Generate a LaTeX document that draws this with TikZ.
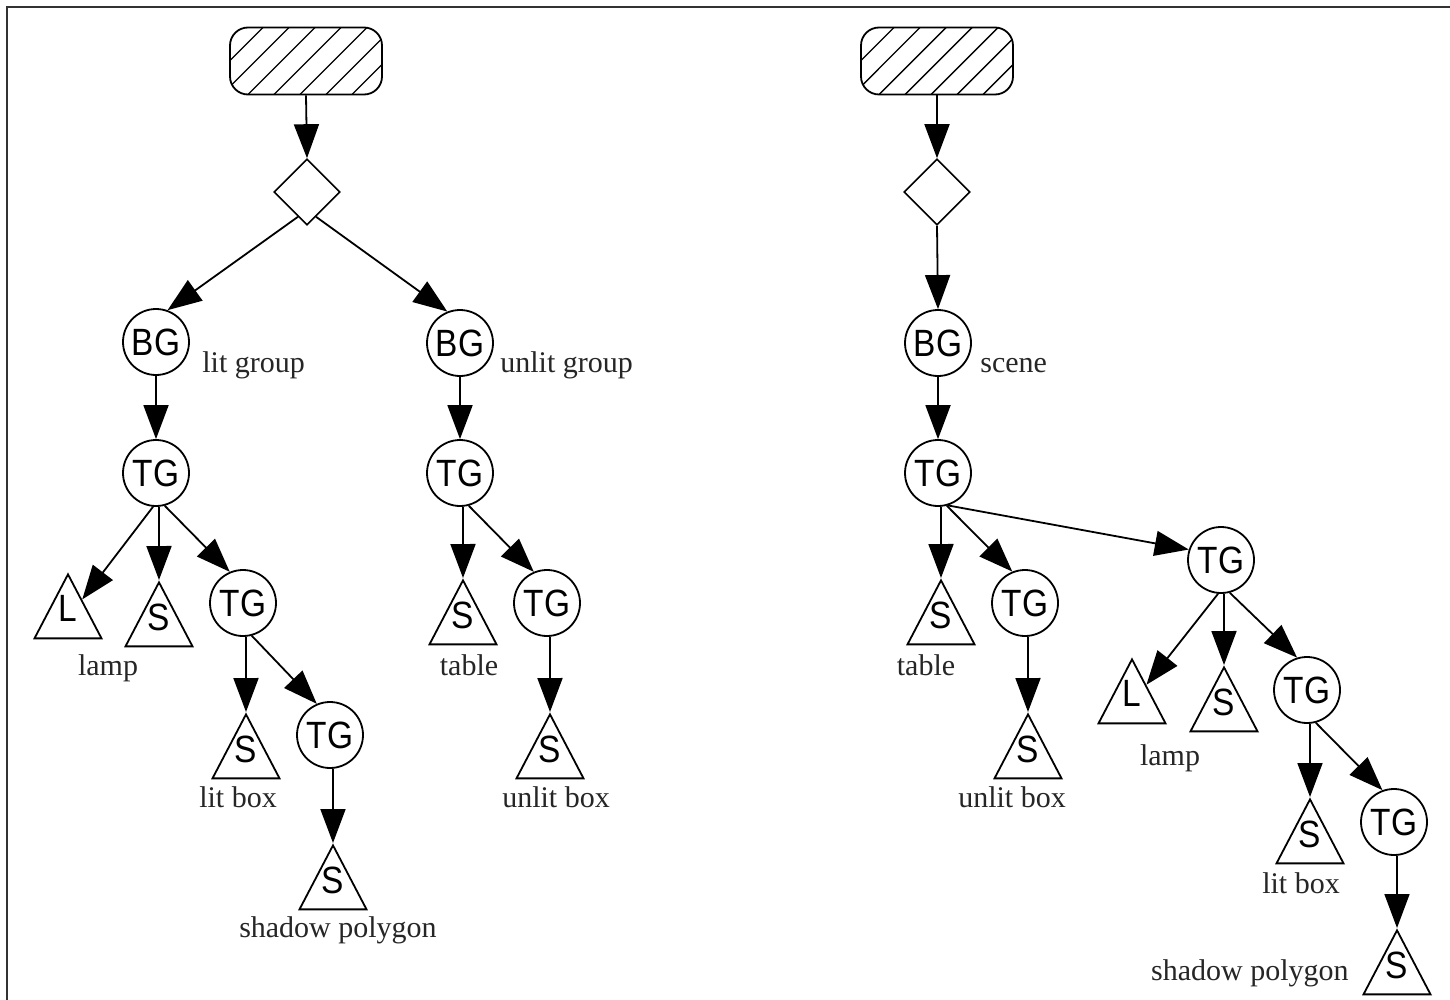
\documentclass[tikz,border=0pt]{standalone}
\usepackage{fontspec}
\setmainfont{Liberation Serif}
\newfontfamily\sansn[FakeStretch=0.88]{Liberation Sans}
\usetikzlibrary{shapes.geometric,arrows.meta,calc}
\begin{document}
\begin{tikzpicture}[x=0.5pt,y=-0.5pt,
  every node/.style={inner sep=0pt},
  grp/.style={circle, draw, line width=0.9pt, minimum size=33pt, font=\sansn\fontsize{19pt}{21pt}\selectfont},
  leaf/.style={isosceles triangle, isosceles triangle stretches, shape border rotate=90, draw, line width=0.9pt, minimum width=33.5pt, minimum height=32pt, anchor=apex},
  leaftxt/.style={font=\sansn\fontsize{19pt}{21pt}\selectfont},
  sw/.style={diamond, draw, line width=0.8pt, minimum size=33pt},
  rootbox/.style={rectangle, rounded corners=9pt, draw, line width=0.9pt, minimum width=76pt, minimum height=33.5pt,
    path picture={\foreach \k in {-30,-17,...,77}{\draw[line width=0.7pt] ($(path picture bounding box.south west)+(\k pt,0pt)$) -- ++(45:60pt);}}},
  lbl/.style={font=\fontsize{15pt}{18pt}\selectfont, text=black!85, anchor=base},
  conn/.style={draw, line width=0.9pt, -{Triangle[length=17pt,width=12.5pt]}}
]
\useasboundingbox (0,0) rectangle (1450,1000);
\fill[white] (0,0) rectangle (1450,1000);
\draw[line width=1.1pt, black!80] (7,1000) -- (7,7) -- (1450,7);

% ---------- left tree ----------
\node[rootbox] (rootL) at (306,61) {};
\node[sw] (dL) at (307,192) {};
\node[grp] (bg1) at (156,342) {BG};
\node[lbl, anchor=base west] (bg1l) at (202,372) {lit group};
\node[grp] (tg1) at (156,473) {TG};
\node[leaf] (L1) at (68,572) {};
\node[leaftxt] (L1t) at ($(L1.apex)+(0,36)$) {L};
\node[lbl] (L1l) at (108,675) {lamp};
\node[leaf] (S1) at (159,580) {};
\node[leaftxt] (S1t) at ($(S1.apex)+(0,37)$) {S};
\node[grp] (tg2) at (243,603) {TG};
\node[leaf] (S2) at (246,712) {};
\node[leaftxt] (S2t) at ($(S2.apex)+(0,37)$) {S};
\node[lbl] (S2l) at (238,807) {lit box};
\node[grp] (tg3) at (330,735) {TG};
\node[leaf] (S3) at (333,843) {};
\node[leaftxt] (S3t) at ($(S3.apex)+(0,37)$) {S};
\node[lbl] (S3l) at (338,937) {shadow polygon};
\node[grp] (bg2) at (460,343) {BG};
\node[lbl, anchor=base west] (bg2l) at (500,372) {unlit group};
\node[grp] (tg4) at (460,473) {TG};
\node[leaf] (S4) at (463,578) {};
\node[leaftxt] (S4t) at ($(S4.apex)+(0,37)$) {S};
\node[lbl] (S4l) at (469,675) {table};
\node[grp] (tg5) at (547,603) {TG};
\node[leaf] (S5) at (550,712) {};
\node[leaftxt] (S5t) at ($(S5.apex)+(0,37)$) {S};
\node[lbl] (S5l) at (556,807) {unlit box};

\draw[conn] (rootL.south) -- (dL.north);
\draw[conn] (dL.-110) -- (bg1.70);
\draw[conn] (dL.-70) -- (bg2.112);
\draw[conn] (bg1.south) -- (tg1.north);
\draw[conn] (tg1.-95) -- (L1);
\draw[conn] (tg1.-85) -- (S1.apex);
\draw[conn] (tg1.-75) -- (tg2.113);
\draw[conn] (tg2.-85) -- (S2.apex);
\draw[conn] (tg2.-75) -- (tg3.113);
\draw[conn] (tg3.-85) -- (S3.apex);
\draw[conn] (bg2.south) -- (tg4.north);
\draw[conn] (tg4.-85) -- (S4.apex);
\draw[conn] (tg4.-75) -- (tg5.113);
\draw[conn] (tg5.-85) -- (S5.apex);

% ---------- right tree ----------
\node[rootbox] (rootR) at (937,61) {};
\node[sw] (dR) at (937,192) {};
\node[grp] (bg3) at (938,343) {BG};
\node[lbl, anchor=base west] (bg3l) at (980,372) {scene};
\node[grp] (tg6) at (938,473) {TG};
\node[leaf] (S6) at (941,578) {};
\node[leaftxt] (S6t) at ($(S6.apex)+(0,37)$) {S};
\node[lbl] (S6l) at (926,675) {table};
\node[grp] (tg7) at (1025,603) {TG};
\node[leaf] (S7) at (1028,712) {};
\node[leaftxt] (S7t) at ($(S7.apex)+(0,37)$) {S};
\node[lbl] (S7l) at (1012,807) {unlit box};
\node[grp] (tg8) at (1221,560) {TG};
\node[leaf] (L2) at (1132,657) {};
\node[leaftxt] (L2t) at ($(L2.apex)+(0,36)$) {L};
\node[lbl] (L2l) at (1170,765) {lamp};
\node[leaf] (S8) at (1224,665) {};
\node[leaftxt] (S8t) at ($(S8.apex)+(0,37)$) {S};
\node[grp] (tg9) at (1307,690) {TG};
\node[leaf] (S9) at (1310,797) {};
\node[leaftxt] (S9t) at ($(S9.apex)+(0,37)$) {S};
\node[lbl] (S9l) at (1301,893) {lit box};
\node[grp] (tg10) at (1394,822) {TG};
\node[leaf] (S10) at (1397,928) {};
\node[leaftxt] (S10t) at ($(S10.apex)+(0,37)$) {S};
\node[lbl, anchor=base east] (S10l) at (1349,980) {shadow polygon};

\draw[conn] (rootR.south) -- (dR.north);
\draw[conn] (dR.south) -- (bg3.north);
\draw[conn] (bg3.south) -- (tg6.north);
\draw[conn] (tg6.-85) -- (S6.apex);
\draw[conn] (tg6.-75) -- (tg7.112);
\draw[conn] (tg6.-73) -- (tg8.162);
\draw[conn] (tg7.-85) -- (S7.apex);
\draw[conn] (tg8.-95) -- (L2);
\draw[conn] (tg8.-85) -- (S8.apex);
\draw[conn] (tg8.-75) -- (tg9.107);
\draw[conn] (tg9.-85) -- (S9.apex);
\draw[conn] (tg9.-75) -- (tg10.110);
\draw[conn] (tg10.-85) -- (S10.apex);
\end{tikzpicture}
\end{document}
